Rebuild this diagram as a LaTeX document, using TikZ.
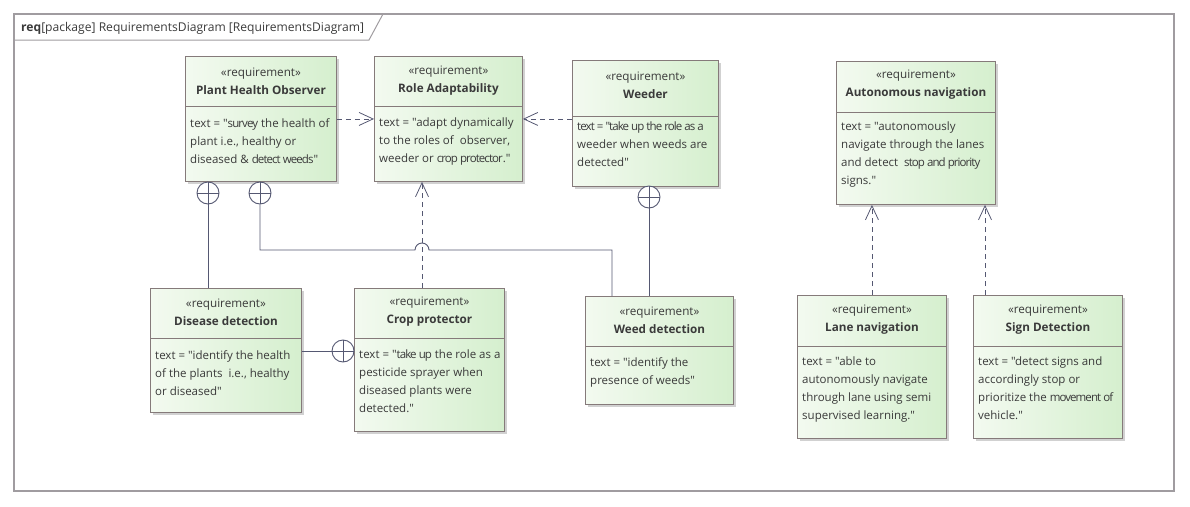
\documentclass[tikz,border=0pt]{standalone}
\usepackage{fontspec}
\setmainfont{Open Sans}[Ligatures=TeXOff]
\usetikzlibrary{arrows.meta,positioning,calc,shadows}
\definecolor{reqL}{HTML}{F3FAF0}
\definecolor{reqR}{HTML}{D5EFCE}
\definecolor{reqedge}{HTML}{857A7A}
\definecolor{lnk}{HTML}{555872}
\definecolor{txt}{HTML}{3A3A3A}
\definecolor{frmgray}{HTML}{A09CA0}
\newcommand{\tight}[1]{{\addfontfeatures{LetterSpace=-8}#1}}
\tikzset{
  req/.style={rectangle,draw=reqedge,line width=0.9pt,left color=reqL,right color=reqR,
              anchor=north west,inner sep=0pt,
              drop shadow={shadow xshift=2.5pt,shadow yshift=-2.5pt,fill=black,opacity=0.18}},
  divline/.style={draw=reqedge,line width=0.9pt},
  head/.style={align=center,text=txt,inner sep=0pt,
               font=\fontsize{11.7}{18}\selectfont},
  body/.style={align=left,text=txt,inner sep=0pt,anchor=north west,
               font=\fontsize{11.5}{18}\selectfont},
  dep/.style={-{Straight Barb[length=14pt,width=13pt]},lnk,line width=0.8pt,
              dash pattern=on 5pt off 4pt},
  cont/.style={lnk,line width=0.9pt},
  contain/.style={circle,draw=lnk,line width=0.9pt,fill=white,minimum size=22pt,inner sep=0pt,
                  path picture={\draw[lnk,line width=0.9pt]
                    (path picture bounding box.north) -- (path picture bounding box.south)
                    (path picture bounding box.west) -- (path picture bounding box.east);}},
}

\begin{document}
\begin{tikzpicture}[x=1pt,y=-1pt]
  \useasboundingbox (0,0) rectangle (1190,506);
  % frame
  \draw[frmgray,line width=1.6pt] (14,14) rectangle (1174,491);
  \draw[frmgray,line width=1pt] (14,40) -- (369,40) -- (383,14);
  \node[anchor=base west,inner sep=0pt,text=txt,font=\fontsize{12.1}{14}\selectfont] (ttl) at (21,31)
    {\textbf{req}[package] RequirementsDiagram [RequirementsDiagram]};

  % boxes
  \node[req,minimum width=151pt,minimum height=125pt] (pho) at (185,56) {};
  \node[req,minimum width=148pt,minimum height=125pt] (ra) at (374,56) {};
  \node[req,minimum width=146pt,minimum height=126pt] (weeder) at (572,60) {};
  \node[req,minimum width=159pt,minimum height=143pt] (auto) at (836,61) {};
  \node[req,minimum width=151pt,minimum height=124pt] (dis) at (150,288) {};
  \node[req,minimum width=150pt,minimum height=143pt] (crop) at (354,288) {};
  \node[req,minimum width=148pt,minimum height=108pt] (wd) at (585,296) {};
  \node[req,minimum width=149pt,minimum height=143pt] (lane) at (797,295) {};
  \node[req,minimum width=149pt,minimum height=143pt] (sign) at (973,295) {};

  \draw[divline] ($(pho.north west)+(0,50)$) -- ($(pho.north east)+(0,50)$);
  \draw[divline] ($(ra.north west)+(0,50)$) -- ($(ra.north east)+(0,50)$);
  \draw[divline] ($(weeder.north west)+(0,56)$) -- ($(weeder.north east)+(0,56)$);
  \draw[divline] ($(auto.north west)+(0,51)$) -- ($(auto.north east)+(0,51)$);
  \draw[divline] ($(dis.north west)+(0,50)$) -- ($(dis.north east)+(0,50)$);
  \draw[divline] ($(crop.north west)+(0,50)$) -- ($(crop.north east)+(0,50)$);
  \draw[divline] ($(wd.north west)+(0,50)$) -- ($(wd.north east)+(0,50)$);
  \draw[divline] ($(lane.north west)+(0,51)$) -- ($(lane.north east)+(0,51)$);
  \draw[divline] ($(sign.north west)+(0,51)$) -- ($(sign.north east)+(0,51)$);

  % headers
  \node[head] (phoh) at ($(pho.north)+(0,25)$) {«requirement»\\\textbf{Plant Health Observer}};
  \node[head] (rah) at ($(ra.north)+(0,25)$) {«requirement»\\\textbf{Role Adaptability}};
  \node[head] (weederh) at ($(weeder.north)+(0,25)$) {«requirement»\\\textbf{Weeder}};
  \node[head] (autoh) at ($(auto.north)+(0,24)$) {«requirement»\\\textbf{Autonomous navigation}};
  \node[head] (dish) at ($(dis.north)+(0,24)$) {«requirement»\\\textbf{Disease detection}};
  \node[head] (croph) at ($(crop.north)+(0,24)$) {«requirement»\\\textbf{Crop protector}};
  \node[head] (wdh) at ($(wd.north)+(0,24)$) {«requirement»\\\textbf{Weed detection}};
  \node[head] (laneh) at ($(lane.north)+(0,25)$) {«requirement»\\\textbf{Lane navigation}};
  \node[head] (signh) at ($(sign.north)+(0,25)$) {«requirement»\\\textbf{Sign Detection}};

  % texts
  \node[body] (phot) at ($(pho.north west)+(5,62)$)
    {text = "\tight{survey} the health of\\plant i.e., healthy or\\diseased \& \tight{detect weeds}"};
  \node[body] (rat) at ($(ra.north west)+(5,62)$)
    {text = "adapt dynamically\\to the roles of\ \ observer,\\weeder or \tight{crop protector}."};
  \node[body] (weedert) at ($(weeder.north west)+(5,62)$)
    {\tight{text = "take up the role as a}\\weeder when weeds are\\detected"};
  \node[body] (autot) at ($(auto.north west)+(5,61)$)
    {text = "autonomously\\navigate through the lanes\\and detect\ \ \tight{stop and priority}\\signs."};
  \node[body] (dist) at ($(dis.north west)+(5,62)$)
    {text = "identify the health\\of the plants\ \ i.e., healthy\\or diseased"};
  \node[body] (cropt) at ($(crop.north west)+(5,62)$)
    {text = "\tight{take up} the role as a\\pesticide sprayer when\\diseased plants were\\detected."};
  \node[body] (wdt) at ($(wd.north west)+(5,61)$)
    {text = "identify the\\presence of weeds"};
  \node[body] (lanet) at ($(lane.north west)+(5,62)$)
    {text = "able to\\autonomously navigate\\through lane using semi\\supervised learning."};
  \node[body] (signt) at ($(sign.north west)+(5,62)$)
    {text = "detect signs and\\accordingly stop or\\prioritize the \tight{movement of}\\vehicle."};

  % derive links
  \draw[dep] (pho) -- (ra);
  \draw[dep] (weeder.west |- ra.east) -- (ra.east);
  \draw[dep] ($(crop.north west)+(68,0)$) coordinate (cp) -- (cp |- ra.south);
  \draw[dep] (lane.north) -- (lane.north |- auto.south);
  \draw[dep] ($(sign.north west)+(12,0)$) coordinate (sp) -- (sp |- auto.south);

  % containment
  \node[contain] (c1) at (208,193) {};
  \node[contain] (c2) at (260,193) {};
  \node[contain] (c3) at (649,197) {};
  \node[contain] (c4) at (343,351) {};
  \coordinate (hop) at (cp |- 0,250);
  \draw[cont] (c1) -- (c1 |- dis.north);
  \draw[cont] (c2) |- ([xshift=-7pt]hop) arc[start angle=180,end angle=0,radius=7pt]
    -| ($(wd.north west)+(27,0)$);
  \draw[cont] (c3) -- (c3 |- wd.north);
  \draw[cont] (c4) -- (c4 -| dis.east);
\end{tikzpicture}
\end{document}
